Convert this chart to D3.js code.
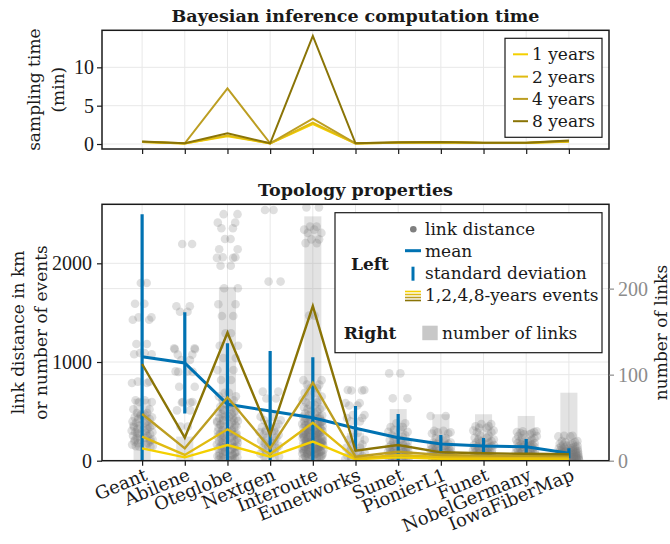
<!DOCTYPE html>
<html>
<head>
<meta charset="utf-8">
<script src="https://cdn.jsdelivr.net/npm/d3@7"></script>
<style>
  body { margin: 0; background: #fff; }
  svg { display: block; }
</style>
</head>
<body>
<svg id="chart" width="670" height="544"></svg>
<script>
// ---------- data ----------
const topologies = ["Geant", "Abilene", "Oteglobe", "Nextgen", "Interoute", "Eunetworks",
  "Sunet", "PionierL1", "Funet", "NobelGermany", "IowaFiberMap"];

// Bayesian inference sampling time (minutes)
const yearLabels = ["1 years", "2 years", "4 years", "8 years"];
const time1y = [0.25, 0.08, 1.0, 0.08, 2.6, 0.08, 0.15, 0.2, 0.12, 0.12, 0.3];
const time2y = [0.27, 0.08, 1.1, 0.08, 2.8, 0.08, 0.17, 0.22, 0.13, 0.13, 0.33];
const time4y = [0.3, 0.1, 7.25, 0.1, 3.3, 0.1, 0.2, 0.25, 0.15, 0.15, 0.4];
const time8y = [0.32, 0.1, 1.4, 0.1, 14.1, 0.1, 0.22, 0.27, 0.17, 0.17, 0.45];

// number of links per topology (right axis)
const numLinks = [72, 28, 202, 38, 284, 32, 60, 54, 54, 52, 79];

// mean and standard deviation of link distance (km)
const meanDist = [1054, 991, 571, 503, 436, 328, 233, 169, 149, 142, 75];
const sdDist = [1442, 512, 618, 608, 611, 226, 240, 91, 81, 78, 51];

// number of events for 1, 2, 4, 8 years
const events1y = [125, 34, 159, 41, 193, 14, 34, 20, 20, 19, 18];
const events2y = [243, 58, 318, 68, 385, 24, 58, 37, 35, 34, 33];
const events4y = [473, 125, 642, 125, 790, 41, 91, 58, 51, 50, 48];
const events8y = [980, 233, 1297, 260, 1567, 101, 159, 85, 75, 70, 65];

// link distances (km), one entry per undirected link; both directions are drawn
const distGeant = [1800, 1590, 1452, 1428, 1183, 1092, 1078, 801, 788, 612, 594, 521, 483, 468, 441,
  422, 398, 383, 357, 341, 322, 303, 288, 271, 252, 233, 214, 196, 178, 163, 148, 141, 356, 281, 455, 212];
const distAbilene = [2195, 1565, 1510, 1140, 1075, 1020, 905, 750, 595, 510, 345, 1130, 900, 590];
const distOteglobe = [2498, 2412, 2355, 2246, 2142, 2061, 2055, 1976, 1747, 1585, 1466, 1291, 1165,
  1040, 919, 818,
  688, 652, 613, 574, 547, 512, 491, 472, 448, 431, 409, 388, 368, 349, 332, 311, 294, 276, 259,
  246, 229, 208, 194, 178, 163, 147, 134, 122, 106, 91, 76, 61, 47, 34, 21, 11, 4, 228, 362,
  438, 297, 183, 87, 52, 519, 402, 267, 141];
const distNextgen = [2540, 1815, 700, 630, 445, 410, 372, 340, 305, 288, 262, 231, 205, 178, 150, 128, 96, 70, 42];
const distInteroute = [2567, 2372, 2341, 2308, 2243, 2205, 1470,
  816, 771, 733, 687, 651, 617, 589, 564, 541, 523, 497, 480, 461, 448, 431, 417, 400, 387, 373,
  361, 349, 334, 321, 308, 297, 285, 271, 258, 247, 236, 222, 211, 199, 188, 177, 166, 154, 142,
  131, 119, 108, 96, 83, 71, 58, 46, 34, 22, 11, 312, 276, 243, 207, 174, 139, 102, 68, 393, 358,
  286, 231, 192, 158, 121, 87, 52, 425, 334, 263, 215, 181, 145, 113, 74, 36, 298, 251, 168, 92];
const distEunetworks = [716, 712, 585, 560, 463, 432, 398, 282, 212, 165, 130, 96, 72, 48, 30, 18];
const distSunet = [885, 632, 380, 342, 314, 292, 258, 236, 210, 193, 176, 162, 151, 139, 128, 117,
  109, 98, 92, 84, 77, 66, 58, 52, 44, 37, 31, 24, 19, 12];
const distPionierL1 = [453, 302, 288, 276, 228, 203, 184, 171, 158, 149, 137, 128, 119, 108, 99, 93,
  85, 78, 71, 63, 55, 48, 41, 33, 27, 19, 12];
const distFunet = [372, 348, 333, 305, 288, 252, 233, 214, 198, 183, 171, 158, 147, 139, 126, 118,
  107, 98, 89, 81, 72, 63, 55, 46, 37, 28, 20];
const distNobelGermany = [298, 291, 279, 268, 249, 228, 212, 199, 188, 176, 165, 157, 146, 138, 127,
  119, 108, 99, 91, 82, 73, 64, 52, 43, 31, 22];
const distIowaFiberMap = [252, 246, 198, 189, 172, 163, 151, 143, 134, 126, 118, 113, 107, 101, 96,
  91, 86, 81, 77, 72, 68, 63, 59, 54, 50, 46, 42, 39, 35, 32, 29, 26, 23, 20, 17, 14, 11, 9, 6, 4];

const distances = [distGeant, distAbilene, distOteglobe, distNextgen, distInteroute, distEunetworks,
  distSunet, distPionierL1, distFunet, distNobelGermany, distIowaFiberMap];

const topTicks = [0, 5, 10];
const leftTicks = [0, 1000, 2000];
const rightTicks = [0, 100, 200];

// ---------- styling ----------
const yearColors = ["#f4d000", "#e0bb10", "#bc9e22", "#8a7406"];
const blue = "#0072b2";
const textFont = "'DejaVu Serif', serif";
const numFont = "'Liberation Serif', 'DejaVu Serif', serif";
const ink = "#1a1a1a";
const gridColor = "#e8e8e8";

const svg = d3.select("#chart");
const pos = topologies.map((d, i) => i + 1);

const plotL = 102, plotR = 609;
const x = d3.scaleLinear().domain([0.06, 11.94]).range([plotL, plotR]);
const fmt = d3.format("d");

// ---------- helpers ----------
function grid(g, yScale, yVals, top, bottom) {
  g.selectAll(null).data(pos).join("line")
    .attr("x1", d => x(d)).attr("x2", d => x(d))
    .attr("y1", top).attr("y2", bottom)
    .attr("stroke", gridColor).attr("stroke-width", 1);
  g.selectAll(null).data(yVals).join("line")
    .attr("x1", plotL).attr("x2", plotR)
    .attr("y1", d => yScale(d)).attr("y2", d => yScale(d))
    .attr("stroke", gridColor).attr("stroke-width", 1);
}

function styleAxis(g, color, size) {
  g.attr("font-family", null).attr("font-size", null);
  g.select(".domain").remove();
  g.selectAll(".tick line").attr("stroke", color).attr("stroke-width", 1.2);
  g.selectAll(".tick text").attr("fill", color)
    .style("font-family", numFont).style("font-size", size + "px");
}

function frame(top, bottom) {
  svg.append("rect")
    .attr("x", plotL).attr("y", top)
    .attr("width", plotR - plotL).attr("height", bottom - top)
    .attr("fill", "none").attr("stroke", ink).attr("stroke-width", 1.5);
}

// ---------- top panel: computation time ----------
const tTop = 30.3, tBot = 149;
const yT = d3.scaleLinear().domain([-0.65, 14.83]).range([tBot, tTop]);
const gTop = svg.append("g");
grid(gTop, yT, topTicks, tTop, tBot);

const timeSeries = [time1y, time2y, time4y, time8y];
const lineT = d3.line().x((d, i) => x(pos[i])).y(d => yT(d));
gTop.selectAll(null).data(timeSeries).join("path")
  .attr("d", lineT)
  .attr("fill", "none")
  .attr("stroke", (d, i) => yearColors[i])
  .attr("stroke-width", 2)
  .attr("stroke-linejoin", "miter");

frame(tTop, tBot);

const axTL = svg.append("g").attr("transform", `translate(${plotL},0)`)
  .call(d3.axisLeft(yT).tickValues(topTicks).tickSize(5).tickPadding(3).tickFormat(fmt));
styleAxis(axTL, ink, 20);
const axTB = svg.append("g").attr("transform", `translate(0,${tBot})`)
  .call(d3.axisBottom(x).tickValues(pos).tickSize(5).tickFormat(""));
styleAxis(axTB, ink, 20);

svg.append("text").attr("x", (plotL + plotR) / 2).attr("y", 22)
  .attr("text-anchor", "middle").attr("fill", ink)
  .style("font-family", textFont).style("font-weight", "bold").style("font-size", "17.5px")
  .text("Bayesian inference computation time");

[["sampling time", 40], ["(min)", 64]].forEach(([t, bx]) => {
  svg.append("text")
    .attr("transform", `translate(${bx},${(tTop + tBot) / 2}) rotate(-90)`)
    .attr("text-anchor", "middle").attr("fill", ink)
    .style("font-family", textFont).style("font-size", "17px")
    .text(t);
});

// legend (top)
const legT = svg.append("g");
legT.append("rect").attr("x", 505).attr("y", 38.3).attr("width", 97).attr("height", 99)
  .attr("fill", "#fff").attr("stroke", ink).attr("stroke-width", 1.2);
yearLabels.forEach((lab, i) => {
  const cy = 54.3 + i * 22.3;
  legT.append("line").attr("x1", 513).attr("x2", 528).attr("y1", cy).attr("y2", cy)
    .attr("stroke", yearColors[i]).attr("stroke-width", 2);
  legT.append("text").attr("x", 532).attr("y", cy).attr("dy", "0.35em").attr("fill", ink)
    .style("font-family", textFont).style("font-size", "17px").text(lab);
});

// ---------- bottom panel: topology properties ----------
const bTop = 204.3, bBot = 460.7;
const yL = d3.scaleLinear().domain([0, 2598]).range([bBot, bTop]);
const yR = d3.scaleLinear().domain([0, 298]).range([bBot, bTop]);

const gBot = svg.append("g");
gBot.append("clipPath").attr("id", "clipB").append("rect")
  .attr("x", plotL).attr("y", bTop).attr("width", plotR - plotL).attr("height", bBot - bTop);

grid(gBot, yL, leftTicks, bTop, bBot);
gBot.selectAll(null).data(rightTicks.slice(1)).join("line")
  .attr("x1", plotL).attr("x2", plotR)
  .attr("y1", d => yR(d)).attr("y2", d => yR(d))
  .attr("stroke", gridColor).attr("stroke-width", 1);

const content = gBot.append("g").attr("clip-path", "url(#clipB)");

// bars: number of links (right axis)
const barW = x(1.4) - x(1);
content.selectAll(null).data(numLinks).join("rect")
  .attr("x", (d, i) => x(pos[i]) - barW / 2)
  .attr("width", barW)
  .attr("y", d => yR(d))
  .attr("height", d => yR(0) - yR(d))
  .attr("fill", "rgba(128,128,128,0.22)");

// link distance points, two directions per link, spread sideways around the category
const points = [];
distances.forEach((arr, ti) => {
  arr.forEach((v, j) => {
    const a = (j * 0.6180339887 + ti * 0.137) % 1;
    const b = (j * 0.7548776662 + ti * 0.291 + 0.35) % 1;
    points.push({ x: pos[ti] - (0.03 + 0.22 * a), v });
    points.push({ x: pos[ti] + (0.03 + 0.22 * b), v });
  });
});
content.selectAll(null).data(points).join("circle")
  .attr("cx", d => x(d.x)).attr("cy", d => yL(d.v)).attr("r", 4.3)
  .attr("fill", "#7a7a7a").attr("fill-opacity", 0.24);

// standard deviation whiskers
content.selectAll(null).data(meanDist).join("line")
  .attr("x1", (d, i) => x(pos[i])).attr("x2", (d, i) => x(pos[i]))
  .attr("y1", (d, i) => yL(d - sdDist[i])).attr("y2", (d, i) => yL(d + sdDist[i]))
  .attr("stroke", blue).attr("stroke-width", 3.2);

// mean line
const lineB = d3.line().x((d, i) => x(pos[i])).y(d => yL(d));
content.append("path").datum(meanDist).attr("d", lineB)
  .attr("fill", "none").attr("stroke", blue).attr("stroke-width", 3);

// events
const eventSeries = [events1y, events2y, events4y, events8y];
content.selectAll(null).data(eventSeries).join("path")
  .attr("d", lineB).attr("fill", "none")
  .attr("stroke", (d, i) => yearColors[i]).attr("stroke-width", 2.4);

frame(bTop, bBot);

const axBL = svg.append("g").attr("transform", `translate(${plotL},0)`)
  .call(d3.axisLeft(yL).tickValues(leftTicks).tickSize(5).tickPadding(5).tickFormat(fmt));
styleAxis(axBL, ink, 20);
const axBR = svg.append("g").attr("transform", `translate(${plotR},0)`)
  .call(d3.axisRight(yR).tickValues(rightTicks).tickSize(5).tickPadding(4).tickFormat(fmt));
styleAxis(axBR, "#8c8c8c", 20);
const axBB = svg.append("g").attr("transform", `translate(0,${bBot})`)
  .call(d3.axisBottom(x).tickValues(pos).tickSize(5).tickFormat(""));
styleAxis(axBB, ink, 20);

svg.append("g").selectAll(null).data(topologies).join("text")
  .attr("transform", (d, i) => `translate(${x(pos[i]) + 4},${bBot + 13}) rotate(-22.5)`)
  .attr("text-anchor", "end").attr("dy", "0.35em").attr("fill", ink)
  .style("font-family", textFont).style("font-size", "18px")
  .text(d => d);

svg.append("text").attr("x", (plotL + plotR) / 2).attr("y", 196)
  .attr("text-anchor", "middle").attr("fill", ink)
  .style("font-family", textFont).style("font-weight", "bold").style("font-size", "17.5px")
  .text("Topology properties");

[["link distance in km", 24], ["or number of events", 47]].forEach(([t, bx]) => {
  svg.append("text")
    .attr("transform", `translate(${bx},${(bTop + bBot) / 2}) rotate(-90)`)
    .attr("text-anchor", "middle").attr("fill", ink)
    .style("font-family", textFont).style("font-size", "17px")
    .text(t);
});
svg.append("text")
  .attr("transform", `translate(667,${(bTop + bBot) / 2}) rotate(-90)`)
  .attr("text-anchor", "middle").attr("fill", ink)
  .style("font-family", textFont).style("font-size", "17px")
  .text("number of links");

// legend (bottom)
const legB = svg.append("g");
legB.append("rect").attr("x", 335).attr("y", 212.7).attr("width", 267).attr("height", 140)
  .attr("fill", "#fff").attr("stroke", ink).attr("stroke-width", 1.2);
const legText = (tx, ty, s, bold) => legB.append("text").attr("x", tx).attr("y", ty).attr("dy", "0.35em")
  .attr("fill", ink).attr("text-anchor", bold ? "middle" : "start")
  .style("font-family", textFont).style("font-size", "17px")
  .style("font-weight", bold ? "bold" : "normal").text(s);

legText(370, 264.5, "Left", true);
legText(370, 333.5, "Right", true);

legB.append("circle").attr("cx", 413.3).attr("cy", 229.3).attr("r", 3.3).attr("fill", "#7f7f7f");
legText(425, 229.3, "link distance");

legB.append("line").attr("x1", 405).attr("x2", 421).attr("y1", 250.7).attr("y2", 250.7)
  .attr("stroke", blue).attr("stroke-width", 3);
legText(425, 251, "mean");

legB.append("line").attr("x1", 413).attr("x2", 413).attr("y1", 266.7).attr("y2", 280.7)
  .attr("stroke", blue).attr("stroke-width", 3);
legText(425, 273.3, "standard deviation");

yearColors.forEach((c, i) => {
  const ly = 291.5 + i * 3;
  legB.append("line").attr("x1", 405).attr("x2", 421).attr("y1", ly).attr("y2", ly)
    .attr("stroke", c).attr("stroke-width", 1.6);
});
legText(425, 295.3, "1,2,4,8-years events");

legB.append("rect").attr("x", 422.3).attr("y", 325.7).attr("width", 15.4).attr("height", 14.5)
  .attr("fill", "#c8c8c8");
legText(442, 333.3, "number of links");
</script>
</body>
</html>
